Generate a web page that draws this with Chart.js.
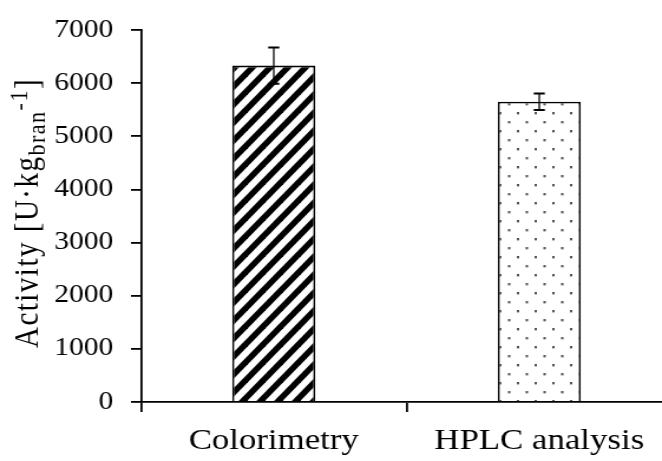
<!DOCTYPE html>
<html>
<head>
<meta charset="utf-8">
<script src="https://cdn.jsdelivr.net/npm/chart.js@4"></script>
<style>
  html, body { margin: 0; padding: 0; background: #fff; overflow: hidden; }
  #wrap { width: 662px; height: 461px; overflow: hidden; }
  /* the figure is drawn narrow and widened, like the original export */
  #stage { transform: scaleX(1.18); transform-origin: 0 0; width: 571px; height: 461px; }
</style>
</head>
<body>
<div id="wrap"><div id="stage"><canvas id="activityChart" width="571" height="461"></canvas></div></div>
<script>
// Measured activity per method
const categories = ['Colorimetry', 'HPLC analysis'];
const activity = [6330, 5650];
const activityErr = [340, 155];

// Y axis range
const yMin = 0;
const yMax = 7000;
const yStep = 1000;

const serif = "'Liberation Serif', 'Times New Roman', serif";

// Diagonal black stripes for the first bar
function stripePattern() {
    const c = document.createElement('canvas');
    c.width = 15;
    c.height = 18;
    const g = c.getContext('2d');
    g.fillStyle = '#fff';
    g.fillRect(0, 0, c.width, c.height);
    g.strokeStyle = '#000';
    g.lineWidth = 5.5;
    for (let k = -1; k <= 1; k++) {
        g.beginPath();
        g.moveTo(k * c.width - 2, c.height + 2 * c.height / c.width);
        g.lineTo((k + 1) * c.width + 2, -2 * c.height / c.width);
        g.stroke();
    }
    return g.createPattern(c, 'repeat');
}

// Staggered grey dots for the second bar
function dotPattern() {
    const c = document.createElement('canvas');
    c.width = 15;
    c.height = 18;
    const g = c.getContext('2d');
    g.fillStyle = '#fff';
    g.fillRect(0, 0, c.width, c.height);
    g.fillStyle = '#555';
    g.fillRect(3, 4, 2, 2.4);
    g.fillRect(10.5, 13, 2, 2.4);
    return g.createPattern(c, 'repeat');
}

// Error bars on top of each bar
const errorBars = {
    id: 'errorBars',
    afterDatasetsDraw(chart) {
        const ctx = chart.ctx;
        const y = chart.scales.y;
        const meta = chart.getDatasetMeta(0);
        ctx.save();
        ctx.strokeStyle = '#000';
        meta.data.forEach((bar, i) => {
            const top = y.getPixelForValue(activity[i] + activityErr[i]);
            const bottom = y.getPixelForValue(activity[i] - activityErr[i]);
            ctx.lineWidth = 1.3;
            ctx.beginPath();
            ctx.moveTo(bar.x, top);
            ctx.lineTo(bar.x, bottom);
            ctx.stroke();
            ctx.lineWidth = 2;
            ctx.beginPath();
            ctx.moveTo(bar.x - 4.7, top);
            ctx.lineTo(bar.x + 4.7, top);
            ctx.moveTo(bar.x - 4.7, bottom);
            ctx.lineTo(bar.x + 4.7, bottom);
            ctx.stroke();
        });
        ctx.restore();
    }
};

// Rotated y title with subscript and superscript
const yTitle = {
    id: 'yTitle',
    afterDraw(chart) {
        const ctx = chart.ctx;
        const main = '29px ' + serif;
        const small = '22px ' + serif;
        const parts = [
            { text: 'Activity [U·kg', font: main, shift: 0 },
            { text: 'bran', font: small, shift: 6 },
            { text: '-1', font: small, shift: -9.5 },
            { text: ']', font: main, shift: 0 }
        ];
        ctx.save();
        ctx.letterSpacing = '1.5px';
        let total = 0;
        parts.forEach(p => { ctx.font = p.font; p.w = ctx.measureText(p.text).width; total += p.w; });
        ctx.translate(32, 213);
        ctx.rotate(-Math.PI / 2);
        ctx.fillStyle = '#000';
        ctx.textBaseline = 'alphabetic';
        let x = -total / 2;
        parts.forEach(p => {
            ctx.font = p.font;
            ctx.fillText(p.text, x, p.shift);
            x += p.w;
        });
        ctx.restore();
    }
};

new Chart(document.getElementById('activityChart'), {
    type: 'bar',
    data: {
        labels: categories,
        datasets: [{
            data: activity,
            backgroundColor: [stripePattern(), dotPattern()],
            borderColor: '#000',
            borderWidth: 1.8,
            barPercentage: 0.313,
            categoryPercentage: 1
        }]
    },
    options: {
        responsive: false,
        animation: false,
        devicePixelRatio: 1,
        layout: { padding: { top: 28, right: 1.5, bottom: 0, left: 0 } },
        plugins: {
            legend: { display: false },
            tooltip: { enabled: false }
        },
        scales: {
            x: {
                grid: {
                    display: true,
                    drawOnChartArea: false,
                    drawTicks: true,
                    tickLength: 10,
                    color: '#000',
                    lineWidth: 1.8
                },
                border: { display: true, color: '#000', width: 1.8 },
                ticks: {
                    color: '#000',
                    font: { family: serif, size: 29.5 },
                    padding: 12,
                    maxRotation: 0
                },
                afterFit(s) { s.height = 59; }
            },
            y: {
                min: yMin,
                max: yMax,
                grid: {
                    display: true,
                    drawOnChartArea: false,
                    drawTicks: true,
                    tickLength: 8.5,
                    color: '#000',
                    lineWidth: 1.8
                },
                border: { display: true, color: '#000', width: 1.8 },
                ticks: {
                    stepSize: yStep,
                    color: '#000',
                    font: { family: serif, size: 25 },
                    padding: 15,
                    callback: v => String(v)
                },
                afterFit(s) { s.width = 119.5; }
            }
        }
    },
    plugins: [errorBars, yTitle]
});
</script>
</body>
</html>
